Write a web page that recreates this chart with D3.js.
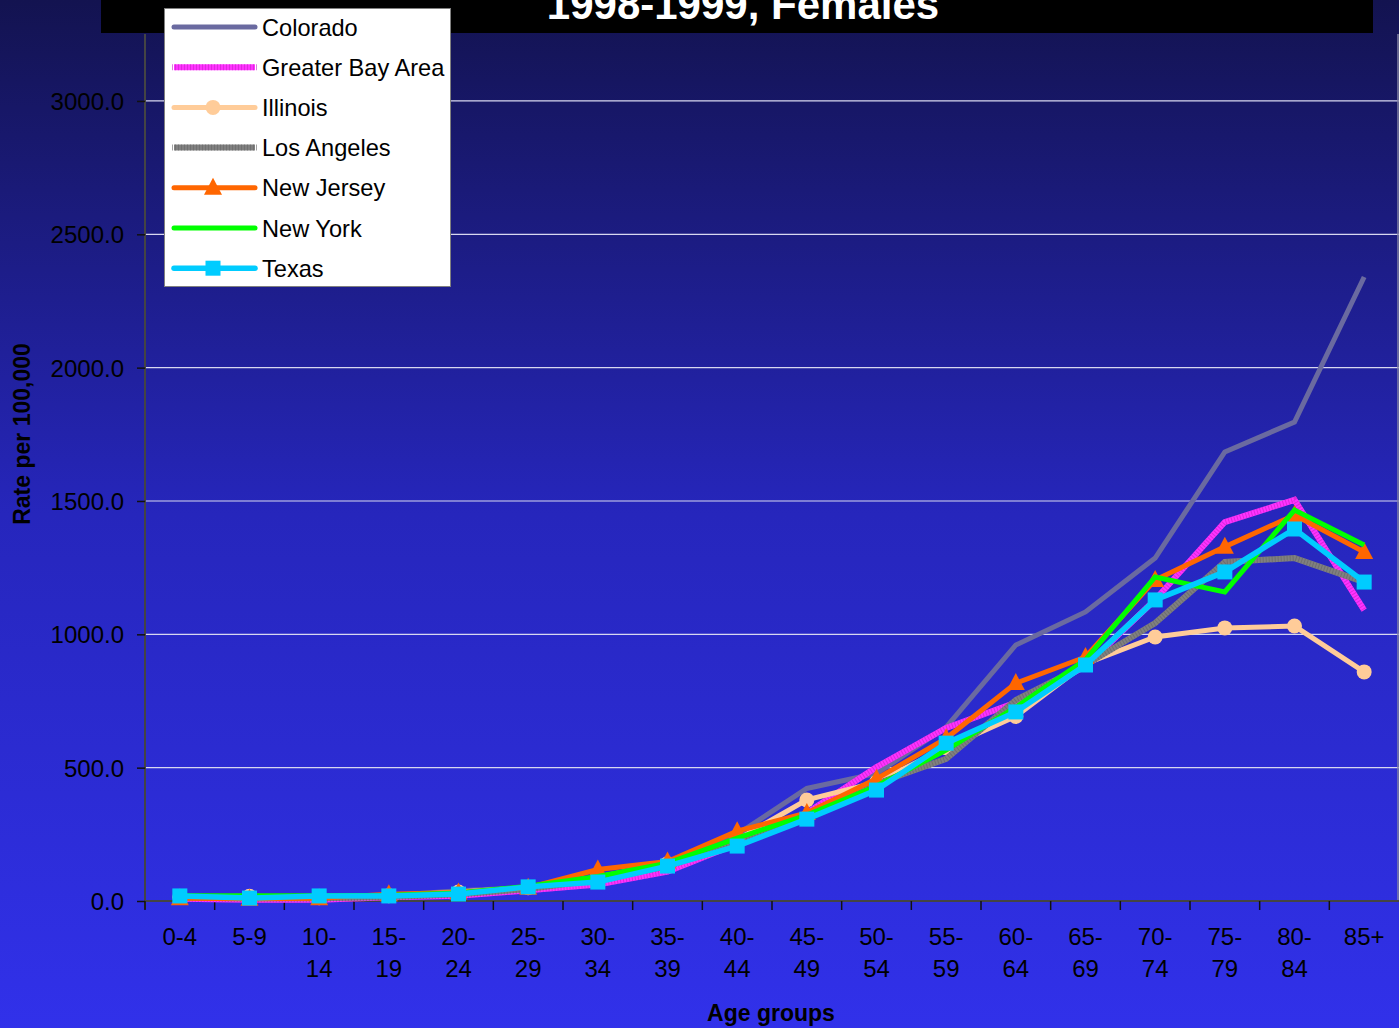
<!DOCTYPE html>
<html><head><meta charset="utf-8">
<script src="https://cdn.jsdelivr.net/npm/d3@7"></script>
<style>html,body{margin:0;padding:0;background:#13134f;overflow:hidden}</style>
</head><body>
<svg id="chart" width="1399" height="1028"></svg>
<script>
const categories = ["0-4","5-9","10-14","15-19","20-24","25-29","30-34","35-39","40-44","45-49","50-54","55-59","60-64","65-69","70-74","75-79","80-84","85+"];
const tickLabels = [["0-4"],["5-9"],["10-","14"],["15-","19"],["20-","24"],["25-","29"],["30-","34"],["35-","39"],["40-","44"],["45-","49"],["50-","54"],["55-","59"],["60-","64"],["65-","69"],["70-","74"],["75-","79"],["80-","84"],["85+"]];
const yTicks = [0, 500, 1000, 1500, 2000, 2500, 3000];
const seriesNames = ["Colorado","Greater Bay Area","Illinois","Los Angeles","New Jersey","New York","Texas"];
const colorado = [18, 15, 15, 20, 38, 50, 88, 140, 250, 422, 478, 652, 960, 1084, 1286, 1684, 1796, 2340];
const bayArea  = [8, 5, 5, 14, 20, 40, 62, 110, 215, 330, 502, 649, 744, 880, 1130, 1421, 1504, 1091];
const illinois = [15, 18, 12, 20, 34, 50, 90, 140, 230, 379, 445, 575, 692, 890, 990, 1024, 1031, 859];
const losAngeles = [12, 10, 10, 15, 25, 45, 80, 130, 220, 310, 440, 533, 754, 885, 1042, 1271, 1286, 1196];
const newJersey = [10, 8, 10, 25, 32, 50, 118, 148, 262, 330, 458, 610, 817, 915, 1204, 1328, 1447, 1309];
const newYork  = [20, 20, 20, 22, 30, 55, 92, 142, 236, 322, 431, 566, 727, 904, 1215, 1159, 1466, 1335];
const texas    = [19, 11, 19, 19, 26, 53, 71, 131, 206, 307, 416, 592, 709, 885, 1129, 1234, 1395, 1196];
const seriesValues = [colorado, bayArea, illinois, losAngeles, newJersey, newYork, texas];

const styles = [
  {color:"#6a6aa0", width:5, marker:null},
  {color:"#ff33ff", width:6, marker:null, hatch:"#cc22cc"},
  {color:"#ffcc99", width:5, marker:"circle"},
  {color:"#808080", width:6, marker:null, hatch:"#666666"},
  {color:"#ff6600", width:5, marker:"triangle"},
  {color:"#00ff00", width:5, marker:null},
  {color:"#00ccff", width:5.5, marker:"square"}
];

const svg = d3.select("#chart");
const W = 1399, H = 1028;
const defs = svg.append("defs");
const grad = defs.append("linearGradient").attr("id","bg").attr("x1",0).attr("y1",0).attr("x2",0).attr("y2",1);
grad.append("stop").attr("offset","0").attr("stop-color","#131350");
grad.append("stop").attr("offset","0.5").attr("stop-color","#2626bc");
grad.append("stop").attr("offset","1").attr("stop-color","#3131ea");
svg.append("rect").attr("width",W).attr("height",H).attr("fill","url(#bg)");

const x = d3.scaleBand().domain(categories).range([145, 1399]).padding(0);
const y = d3.scaleLinear().domain([0, 3250]).range([901, 34.3]);
const cx = c => x(c) + x.bandwidth()/2;

// gridlines
svg.append("g").selectAll("line").data(yTicks.filter(d=>d>0)).join("line")
  .attr("x1",146).attr("x2",1399).attr("y1",d=>y(d)).attr("y2",d=>y(d))
  .attr("stroke","#d8d8f0").attr("stroke-width",1.2);

// right border
svg.append("line").attr("x1",1398).attr("x2",1398).attr("y1",34).attr("y2",901).attr("stroke","#8080a0").attr("stroke-width",1.5);

// y axis
const yAxis = d3.axisLeft(y).tickValues(yTicks).tickSize(8).tickPadding(13).tickFormat(d=>d3.format(".1f")(d));
const gy = svg.append("g").attr("transform","translate(145,0)").call(yAxis);
gy.select(".domain").attr("stroke","#444").attr("stroke-width",2).attr("d","M0,34V909");
gy.selectAll(".tick line").attr("stroke","#111").attr("stroke-width",1.5);
gy.selectAll(".tick text").attr("font-family","Liberation Sans, Arial, sans-serif").attr("font-size",24).attr("fill","#000").attr("dy","0.35em");

// x axis
const xAxis = d3.axisBottom(x).tickSize(0).tickFormat("");
const gx = svg.append("g").attr("transform","translate(0,901)").call(xAxis);
gx.select(".domain").attr("stroke","#444").attr("stroke-width",2).attr("d","M145,0H1399");
gx.append("g").selectAll("line").data(categories).join("line")
  .attr("x1",d=>x(d)).attr("x2",d=>x(d)).attr("y1",0).attr("y2",9).attr("stroke","#111").attr("stroke-width",1.5);
const xl = svg.append("g").selectAll("text").data(categories).join("text")
  .attr("x",d=>cx(d)).attr("text-anchor","middle")
  .attr("font-family","Liberation Sans, Arial, sans-serif").attr("font-size",24).attr("fill","#000");
xl.each(function(d,i){
  const t = d3.select(this);
  tickLabels[i].forEach((s,j)=>{
    t.append("tspan").attr("x",cx(d)).attr("y",945 + j*32).text(s);
  });
});

// lines
const line = d3.line().x((d,i)=>cx(categories[i])).y(d=>y(d));
const plot = svg.append("g");
seriesValues.forEach((vals, si) => {
  const st = styles[si];
  plot.append("path").datum(vals).attr("d", line).attr("fill","none")
    .attr("stroke", st.color).attr("stroke-width", st.width).attr("stroke-linejoin","miter").attr("stroke-linecap","butt");
  if (st.hatch) {
    plot.append("path").datum(vals).attr("d", line).attr("fill","none")
      .attr("stroke", st.hatch).attr("stroke-width", st.width).attr("stroke-dasharray","1,2").attr("opacity",0.7);
  }
  if (st.marker) {
    const g = plot.append("g");
    vals.forEach((v,i)=>{
      drawMarker(g, st.marker, cx(categories[i]), y(v), st.color);
    });
  }
});

function drawMarker(g, type, px, py, color) {
  if (type === "circle") {
    g.append("circle").attr("cx",px).attr("cy",py).attr("r",7.5).attr("fill",color);
  } else if (type === "square") {
    g.append("rect").attr("x",px-7.5).attr("y",py-7.5).attr("width",15).attr("height",15).attr("fill",color);
  } else if (type === "triangle") {
    g.append("path").attr("d",`M${px},${py-10}L${px+9},${py+7}L${px-9},${py+7}Z`).attr("fill",color);
  }
}

// title bar
svg.append("rect").attr("x",101).attr("y",0).attr("width",1272).attr("height",33).attr("fill","#000");
svg.append("text").attr("x",743).attr("y",19).attr("text-anchor","middle")
  .attr("font-family","Liberation Sans, Arial, sans-serif").attr("font-weight","bold").attr("font-size",42)
  .attr("fill","#fff").text("1998-1999, Females");

// legend
const lg = svg.append("g");
lg.append("rect").attr("x",164.5).attr("y",8.5).attr("width",286).attr("height",278).attr("fill","#fff").attr("stroke","#808080").attr("stroke-width",1);
seriesNames.forEach((name, i) => {
  const st = styles[i];
  const ly = 27 + i*40.2;
  lg.append("line").attr("x1",174).attr("x2",255).attr("y1",ly).attr("y2",ly)
    .attr("stroke",st.color).attr("stroke-width",st.width).attr("stroke-linecap", st.hatch ? "butt" : "round");
  if (st.hatch) {
    lg.append("line").attr("x1",172).attr("x2",257).attr("y1",ly).attr("y2",ly)
      .attr("stroke",st.hatch).attr("stroke-width",st.width).attr("stroke-dasharray","1,2").attr("opacity",0.6);
  }
  if (st.marker) drawMarker(lg, st.marker, 213, ly, st.color);
  lg.append("text").attr("x",262).attr("y",ly+8.5)
    .attr("font-family","Liberation Sans, Arial, sans-serif").attr("font-size",23.6).attr("fill","#000").text(name);
});

// axis titles
svg.append("text").attr("transform","translate(30,434) rotate(-90)").attr("text-anchor","middle")
  .attr("font-family","Liberation Sans, Arial, sans-serif").attr("font-weight","bold").attr("font-size",23).attr("fill","#000")
  .text("Rate per 100,000");
svg.append("text").attr("x",771).attr("y",1021).attr("text-anchor","middle")
  .attr("font-family","Liberation Sans, Arial, sans-serif").attr("font-weight","bold").attr("font-size",23).attr("fill","#000")
  .text("Age groups");
</script>
</body></html>
